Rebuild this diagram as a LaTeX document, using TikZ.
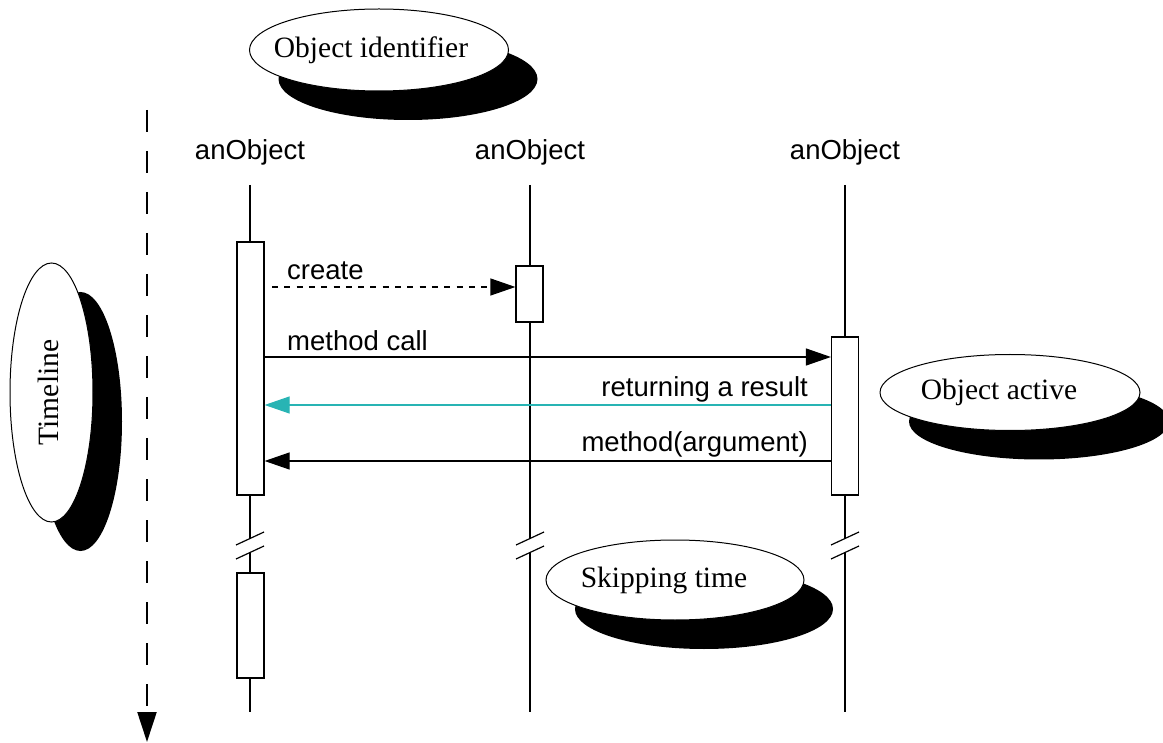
\documentclass[tikz,border=0pt]{standalone}
\usepackage{fontspec}
\setsansfont{Liberation Sans}
\newfontfamily\notefont{Liberation Serif}
\usetikzlibrary{arrows.meta,shapes.geometric,shadows}
\definecolor{tealret}{RGB}{40,180,180}
\newcommand{\leftshift}[2]{\makebox[0pt]{#2\hspace*{#1}}}
\tikzset{
  lbl/.style={font=\sffamily\fontsize{27.5}{30}\selectfont, inner sep=0pt},
  note/.style={ellipse, draw=black, line width=1pt, fill=white, inner sep=0pt,
    font=\notefont\fontsize{29.5}{32}\selectfont,
    drop shadow={shadow xshift=29pt, shadow yshift=-29pt, fill=black, opacity=1}},
  act/.style={draw=black, line width=1.2pt, fill=white, minimum width=27pt, inner sep=0pt},
  life/.style={line width=1.2pt},
  brk/.style={line width=1.2pt},
  msg/.style={line width=1.2pt, -{Triangle[length=25pt,width=17pt]}},
}
\begin{document}
\begin{tikzpicture}[x=1pt,y=-1pt]
\useasboundingbox (0,0) rectangle (1163,743);

% lifelines with breaks
\foreach \i/\x in {1/250,2/530,3/845}{
  \node[lbl] (o\i) at (\x,152) {anObject};
  \coordinate (t\i) at (\x,185);
  \coordinate (u\i) at (\x,538.5);
  \coordinate (v\i) at (\x,552.5);
  \coordinate (b\i) at (\x,712);
  \draw[life] (t\i) -- (u\i);
  \draw[life] (v\i) -- (b\i);
  \draw[brk] ([shift={(-14,6.5)}]u\i) -- ([shift={(14,-6.5)}]u\i);
  \draw[brk] ([shift={(-14,6.5)}]v\i) -- ([shift={(14,-6.5)}]v\i);
}

% activation boxes
\node[act, minimum height=253pt] (a1) at (250.5,368.5) {};
\node[act, minimum height=56pt] (a2) at (529.5,294) {};
\node[act, minimum height=158pt] (a3) at (845,416) {};
\node[act, minimum height=105pt] (a4) at (250.5,625.5) {};

% messages
\coordinate (c1) at (272,287);
\draw[msg, dash pattern=on 6pt off 6.3pt] (c1) -- (c1 -| a2.west);
\node[lbl, anchor=west] (lcreate) at (287,271) {create};

\coordinate (m1) at (264,357);
\draw[msg] (a1.east |- m1) -- (a3.west |- m1);
\node[lbl, anchor=west] (lcall) at (287,341) {method call};

\coordinate (m2) at (830,405);
\draw[msg, draw=tealret, -{Triangle[length=25pt,width=17pt,fill=tealret]}] (a3.west |- m2) -- (a1.east |- m2);
\node[lbl, anchor=east] (lret) at (808,389) {returning a result};

\coordinate (m3) at (830,461);
\draw[msg] (a3.west |- m3) -- (a1.east |- m3);
\node[lbl, anchor=east] (larg) at (808,444) {method(argument)};

% timeline arrow
\coordinate (tl0) at (147,110);
\coordinate (tl1) at (147,742);
\draw[line width=2.2pt, dash pattern=on 22pt off 19pt, -{Triangle[length=30pt,width=19pt]}] (tl0) -- (tl1);

% notes
\node[note, minimum width=259pt, minimum height=82pt] (oid) at (379,50) {\leftshift{16pt}{Object identifier}};
\node[note, minimum width=83pt, minimum height=259pt] (tln) at (51.5,392.5) {\leftshift{6pt}{\rotatebox{90}{Timeline}}};
\node[note, minimum width=260pt, minimum height=76pt] (oact) at (1010,392.5) {\leftshift{22pt}{Object active}};
\node[note, minimum width=258pt, minimum height=80pt] (skip) at (675,580) {\leftshift{22pt}{Skipping time}};
\end{tikzpicture}
\end{document}
